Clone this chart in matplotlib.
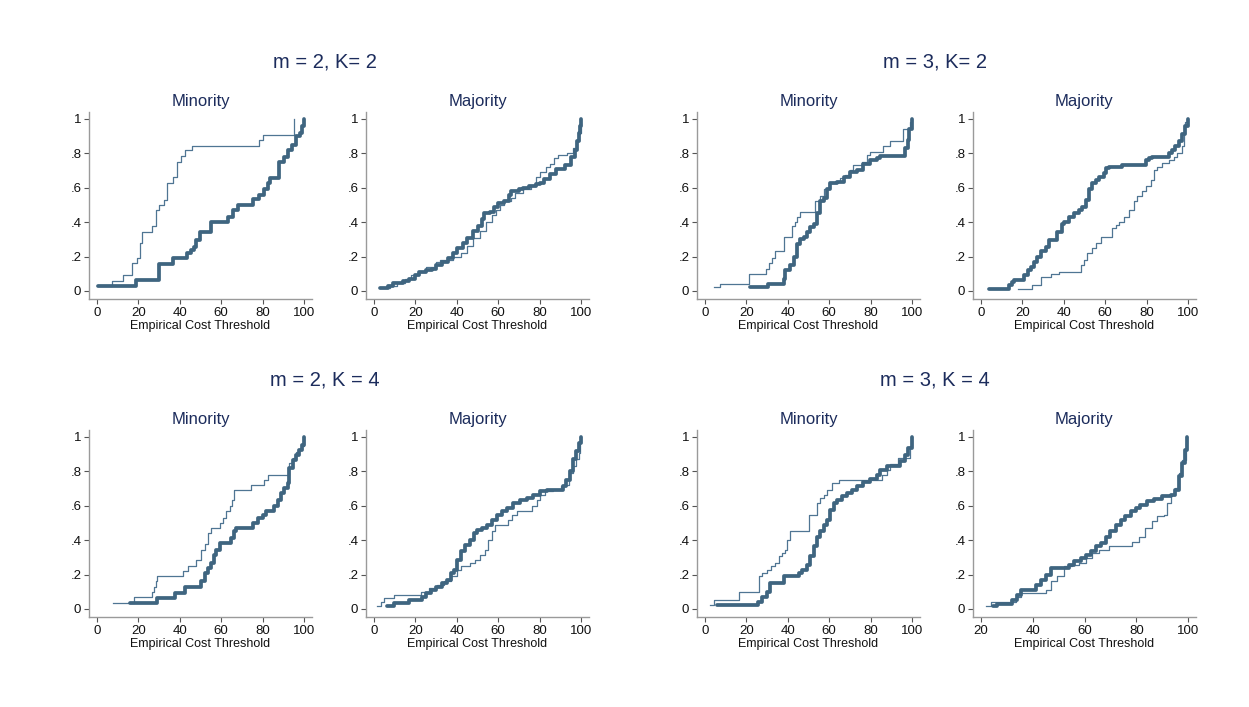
import numpy as np
import matplotlib
matplotlib.use("Agg")
import matplotlib.pyplot as plt

plt.rcParams['font.family'] = ['Liberation Sans', 'DejaVu Sans']

# step points (threshold where the jump happens, share after the jump)
m2k2_min_thin = np.array([
    [0.3, 0.03], [7.2, 0.06], [12.5, 0.095], [16.8, 0.16], [19.5, 0.19], [20.8, 0.28],
    [22, 0.34], [26.4, 0.38], [28.5, 0.47], [30, 0.5], [32.3, 0.53], [33.6, 0.63],
    [36.8, 0.665], [38.7, 0.75], [40.8, 0.785], [42.4, 0.82], [46, 0.845], [78.4, 0.875],
    [80.3, 0.905], [95.2, 1.0]])
m2k2_min_thick = np.array([
    [0.5, 0.03], [18.9, 0.062], [29.9, 0.155], [36.8, 0.19], [43.5, 0.22], [45.5, 0.24],
    [46.8, 0.257], [48, 0.296], [49.6, 0.344], [55.2, 0.40], [63.2, 0.43], [65.6, 0.47],
    [68, 0.5], [75.2, 0.535], [78.4, 0.56], [80.8, 0.59], [82.4, 0.63], [83.5, 0.655],
    [88, 0.75], [90.4, 0.78], [92, 0.82], [94.1, 0.85], [96.3, 0.9], [97.9, 0.92],
    [98.9, 0.96], [99.8, 1.0]])

m2k2_maj_thin = np.array([
    [3, 0.015], [8, 0.03], [11, 0.045], [15, 0.07], [18, 0.09], [22, 0.11], [25, 0.14],
    [30, 0.17], [32, 0.18], [38, 0.2], [42, 0.22], [45, 0.26], [48, 0.31], [51, 0.35],
    [54, 0.4], [57, 0.44], [59, 0.47], [61, 0.5], [63, 0.52], [66, 0.54], [68, 0.57],
    [72, 0.59], [76, 0.61], [78, 0.66], [80, 0.69], [83, 0.72], [85, 0.74], [87, 0.77],
    [89, 0.79], [93, 0.8], [96, 0.83], [98, 0.87], [99, 0.92], [100, 0.97]])
m2k2_maj_thick = np.array([
    [3, 0.015], [7, 0.03], [9, 0.045], [14, 0.055], [17, 0.07], [20, 0.09], [22, 0.11],
    [25, 0.12], [28, 0.13], [30, 0.15], [33, 0.17], [36, 0.19], [38, 0.22], [40, 0.25],
    [43, 0.28], [45, 0.31], [48, 0.35], [50, 0.38], [52, 0.42], [53, 0.45], [56, 0.46],
    [58, 0.49], [60, 0.51], [63, 0.52], [65, 0.56], [66, 0.58], [70, 0.59], [72, 0.60],
    [75, 0.61], [78, 0.62], [80, 0.63], [82, 0.65], [85, 0.68], [88, 0.71], [92, 0.73],
    [95, 0.78], [97, 0.82], [98, 0.87], [99, 0.92], [99.5, 0.96], [100, 1.0]])

m3k2_min_thin = np.array([
    [4.5, 0.02], [7.4, 0.04], [21.3, 0.10], [29.3, 0.13], [31, 0.16], [32.5, 0.19],
    [34, 0.23], [38, 0.315], [42, 0.38], [43.7, 0.40], [44.5, 0.43], [46, 0.46],
    [53.3, 0.52], [55.7, 0.55], [57.3, 0.59], [59.7, 0.625], [63.7, 0.635], [65.3, 0.655],
    [67.7, 0.675], [70, 0.705], [71.7, 0.73], [75.7, 0.75], [78, 0.79], [79.7, 0.81],
    [86, 0.84], [89.3, 0.87], [95.4, 0.94], [98.9, 0.98], [100, 1.0]])
m3k2_min_thick = np.array([
    [22, 0.02], [30.4, 0.04], [38, 0.07], [38.9, 0.12], [41.3, 0.15], [42.9, 0.2],
    [44.5, 0.27], [46, 0.3], [47.7, 0.315], [49.3, 0.344], [50.9, 0.37], [52.5, 0.39],
    [54, 0.45], [55.7, 0.52], [57.3, 0.54], [58.9, 0.59], [60.5, 0.625], [63.7, 0.635],
    [67, 0.665], [70, 0.69], [73.3, 0.705], [76.5, 0.735], [79.7, 0.76], [82.9, 0.77],
    [84.5, 0.785], [96.5, 0.83], [97.8, 0.88], [98.6, 0.94], [99.7, 1.0]])

m3k2_maj_thin = np.array([
    [17.7, 0.014], [24.9, 0.033], [28.9, 0.08], [33.7, 0.10], [37.7, 0.11], [48.2, 0.15],
    [49.8, 0.18], [51.4, 0.22], [53.8, 0.247], [55.4, 0.276], [57.8, 0.315], [63.4, 0.364],
    [65, 0.383], [66.6, 0.40], [69, 0.43], [71.4, 0.47], [73.8, 0.52], [75.4, 0.55],
    [77.8, 0.578], [79.5, 0.607], [81.9, 0.646], [83.5, 0.704], [85, 0.723], [87.5, 0.743],
    [90.7, 0.763], [93.1, 0.78], [94.7, 0.8], [97.1, 0.84], [97.9, 0.91], [98.7, 0.98],
    [99.5, 1.0]])
m3k2_maj_thick = np.array([
    [3.7, 0.014], [13.6, 0.033], [15.2, 0.05], [16, 0.062], [20.9, 0.09], [22.5, 0.12],
    [24, 0.14], [25.7, 0.17], [27.3, 0.2], [28.9, 0.23], [31.3, 0.257], [32.9, 0.296],
    [36.9, 0.345], [39.3, 0.39], [40, 0.40], [42.5, 0.43], [44.9, 0.45], [47.4, 0.47],
    [49, 0.49], [50.6, 0.53], [52.2, 0.59], [53.8, 0.626], [55.4, 0.646], [57, 0.665],
    [59.4, 0.685], [60.2, 0.714], [61.8, 0.72], [68.2, 0.733], [79.5, 0.763], [81.1, 0.77],
    [82.7, 0.78], [90.7, 0.8], [92.3, 0.82], [93.9, 0.84], [95.5, 0.87], [97.1, 0.91],
    [98.4, 0.96], [99.7, 1.0]])

m2k4_min_thin = np.array([
    [7.7, 0.037], [17.9, 0.068], [26.4, 0.1], [27.5, 0.13], [28.5, 0.16], [29.1, 0.19],
    [41.6, 0.223], [44, 0.25], [48, 0.285], [50.4, 0.344], [52, 0.38], [53.6, 0.44],
    [55.2, 0.47], [59.2, 0.5], [60.8, 0.53], [62.4, 0.567], [64, 0.596], [65.3, 0.635],
    [66.4, 0.693], [74.4, 0.722], [80.8, 0.75], [82.4, 0.78], [92.8, 0.85], [94.4, 0.88],
    [96.3, 0.91], [97.6, 0.93], [99.2, 0.945], [100, 1.0]])
m2k4_min_thick = np.array([
    [16, 0.037], [28.8, 0.062], [37.6, 0.095], [42.4, 0.126], [50.4, 0.16], [52, 0.21],
    [53.6, 0.237], [55.2, 0.266], [56.3, 0.315], [57.6, 0.344], [59.2, 0.383], [64.8, 0.41],
    [66.4, 0.45], [67.2, 0.47], [75.2, 0.5], [77.6, 0.53], [80, 0.548], [81.6, 0.567],
    [85.6, 0.596], [87.2, 0.635], [88.8, 0.674], [90.4, 0.703], [92, 0.732], [92.8, 0.82],
    [94.4, 0.868], [96, 0.897], [97.6, 0.926], [98.9, 0.955], [100, 1.0]])

m2k4_maj_thin = np.array([
    [1.6, 0.017], [3.5, 0.043], [5.1, 0.062], [9.9, 0.082], [22.6, 0.1], [26.6, 0.12],
    [30.6, 0.14], [33.8, 0.16], [37, 0.19], [40.2, 0.227], [41.8, 0.247], [46.6, 0.266],
    [49, 0.285], [51.4, 0.315], [53.7, 0.344], [55.3, 0.40], [56.9, 0.45], [58.5, 0.49],
    [64.9, 0.518], [66.5, 0.548], [68.9, 0.567], [76.1, 0.596], [78.5, 0.635], [80, 0.664],
    [82.5, 0.683], [86.4, 0.693], [90.4, 0.713], [92.8, 0.722], [94.1, 0.79], [96, 0.83],
    [97.6, 0.87], [98.9, 0.907], [99.5, 0.965], [100, 1.0]])
m2k4_maj_thick = np.array([
    [6.4, 0.017], [9.9, 0.037], [17, 0.049], [23.4, 0.072], [25, 0.095], [27.4, 0.11],
    [29.8, 0.13], [33, 0.15], [35.4, 0.17], [37, 0.21], [38.6, 0.227], [40.2, 0.285],
    [41.8, 0.334], [44.2, 0.373], [46.6, 0.40], [48.2, 0.44], [49.8, 0.46], [52.2, 0.47],
    [54.5, 0.49], [56.9, 0.518], [59.3, 0.548], [61.7, 0.567], [64.1, 0.586], [67.3, 0.615],
    [70.5, 0.635], [73.7, 0.645], [76.9, 0.664], [80, 0.683], [83.3, 0.693], [91.2, 0.716],
    [92.8, 0.75], [94.4, 0.80], [96, 0.87], [97.6, 0.917], [98.9, 0.965], [100, 1.0]])

m3k4_min_thin = np.array([
    [2.6, 0.02], [4.2, 0.05], [16.5, 0.1], [26, 0.19], [27.7, 0.208], [30, 0.227],
    [31.7, 0.247], [34, 0.266], [35.7, 0.305], [37.3, 0.324], [38.9, 0.344], [39.7, 0.40],
    [41.3, 0.45], [50, 0.548], [54, 0.615], [55.7, 0.645], [57.3, 0.664], [58.9, 0.693],
    [61.3, 0.732], [64.5, 0.75], [85.3, 0.78], [87.7, 0.81], [89.3, 0.84], [93.3, 0.877],
    [98.9, 0.946], [100, 1.0]])
m3k4_min_thick = np.array([
    [5.8, 0.023], [25.6, 0.043], [27.7, 0.072], [29.8, 0.1], [31.4, 0.15], [38, 0.19],
    [45.3, 0.208], [46.9, 0.227], [49.3, 0.256], [50.9, 0.305], [52.5, 0.363], [54, 0.42],
    [55.7, 0.45], [57.3, 0.49], [58.9, 0.518], [60.5, 0.577], [62.1, 0.615], [63.7, 0.635],
    [66.1, 0.654], [68.5, 0.674], [70.9, 0.693], [73.3, 0.713], [76.5, 0.736], [79.7, 0.755],
    [82.9, 0.78], [84.5, 0.806], [87.7, 0.83], [94.1, 0.858], [96.5, 0.897], [98, 0.936],
    [100, 1.0]])

m3k4_maj_thin = np.array([
    [21.9, 0.017], [23.9, 0.043], [33.5, 0.072], [35.4, 0.09], [45, 0.11], [47, 0.16],
    [49.5, 0.19], [52.1, 0.247], [55.3, 0.256], [57.9, 0.266], [60.4, 0.295], [63, 0.324],
    [65.6, 0.344], [69.4, 0.363], [78.4, 0.39], [81, 0.42], [83.5, 0.47], [86.1, 0.51],
    [88, 0.538], [90.6, 0.548], [91.9, 0.615], [93.2, 0.664], [95.1, 0.70], [96.4, 0.79],
    [97.7, 0.868], [99, 0.965], [99.7, 1.0]])
m3k4_maj_thick = np.array([
    [24.5, 0.017], [26.4, 0.03], [32.2, 0.052], [34.1, 0.082], [35.4, 0.11], [41.2, 0.14],
    [43.1, 0.17], [45, 0.198], [47, 0.237], [54, 0.256], [55.9, 0.276], [58.5, 0.295],
    [60.4, 0.315], [62.4, 0.334], [64.3, 0.363], [66.2, 0.383], [68.3, 0.42], [70, 0.45],
    [72, 0.49], [73.9, 0.518], [75.8, 0.538], [77.8, 0.567], [79.7, 0.586], [81.6, 0.606],
    [84.2, 0.625], [86.8, 0.639], [90, 0.654], [93.2, 0.664], [95.1, 0.693], [96.4, 0.77],
    [97.7, 0.85], [98.7, 0.926], [99.7, 1.0]])

group_titles = ['m = 2, K= 2', 'm = 3, K= 2', 'm = 2, K = 4', 'm = 3, K = 4']
panel_titles = ['Minority', 'Majority']
y_ticks = [0, 0.2, 0.4, 0.6, 0.8, 1]
y_ticklabels = ['0', '.2', '.4', '.6', '.8', '1']

panels = [
    # (thin, thick, x ticks)
    (m2k2_min_thin, m2k2_min_thick, [0, 20, 40, 60, 80, 100]),
    (m2k2_maj_thin, m2k2_maj_thick, [0, 20, 40, 60, 80, 100]),
    (m3k2_min_thin, m3k2_min_thick, [0, 20, 40, 60, 80, 100]),
    (m3k2_maj_thin, m3k2_maj_thick, [0, 20, 40, 60, 80, 100]),
    (m2k4_min_thin, m2k4_min_thick, [0, 20, 40, 60, 80, 100]),
    (m2k4_maj_thin, m2k4_maj_thick, [0, 20, 40, 60, 80, 100]),
    (m3k4_min_thin, m3k4_min_thick, [0, 20, 40, 60, 80, 100]),
    (m3k4_maj_thin, m3k4_maj_thick, [20, 40, 60, 80, 100]),
]

thin_color = '#4f7593'
thick_color = '#3f6580'
title_color = '#1c2c5c'

W, H = 1249, 707
fig = plt.figure(figsize=(W / 100, H / 100), dpi=100)

lefts = [89, 366, 697, 973]
tops = [112, 430]
aw, ah = 223, 187

for i, (thin, thick, xt) in enumerate(panels):
    row, col = divmod(i, 4)
    ax = fig.add_axes([lefts[col] / W, 1 - (tops[row] + ah) / H, aw / W, ah / H])
    ax.step(thin[:, 0], thin[:, 1], where='post', color=thin_color, lw=0.9)
    ax.step(thick[:, 0], thick[:, 1], where='post', color=thick_color, lw=2.7,
            solid_joinstyle='round', solid_capstyle='round')
    span = xt[-1] - xt[0]
    pad = 0.038 * span
    ax.set_xlim(xt[0] - pad, xt[-1] + pad)
    ax.set_ylim(-0.047, 1.04)
    ax.set_xticks(xt)
    ax.set_yticks(y_ticks)
    ax.set_yticklabels(y_ticklabels)
    ax.tick_params(direction='out', length=3.5, width=0.8, labelsize=9.5,
                   color='#555555', labelcolor='#111111', pad=2)
    for s in ['top', 'right']:
        ax.spines[s].set_visible(False)
    for s in ['left', 'bottom']:
        ax.spines[s].set_color('#9a9a9a')
        ax.spines[s].set_linewidth(1.0)
    ax.set_xlabel('Empirical Cost Threshold', fontsize=9, labelpad=1, color='#111111')
    ax.set_title(panel_titles[col % 2], fontsize=12, color=title_color, pad=4)

group_pos = [(325, 62), (935, 62), (325, 380), (935, 380)]
for t, (gx, gy) in zip(group_titles, group_pos):
    fig.text(gx / W, 1 - gy / H, t, ha='center', va='center', fontsize=14.5,
             color=title_color)

fig.savefig('out.png', dpi=100, facecolor='white')
